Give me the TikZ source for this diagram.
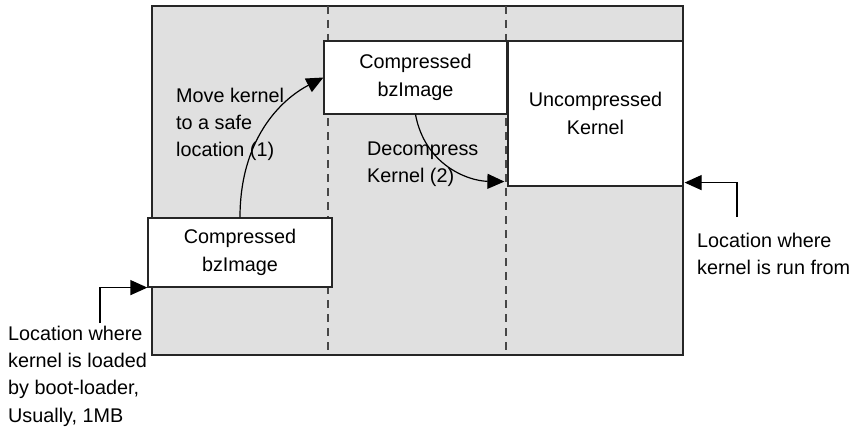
\documentclass[tikz,border=0pt]{standalone}
\usepackage{fontspec}
\setmainfont{Liberation Sans}
\usetikzlibrary{arrows.meta}
\definecolor{memgray}{HTML}{E0E0E0}
\definecolor{edge}{HTML}{262626}
\begin{document}
\begin{tikzpicture}[x=1pt,y=-1pt,
  lbl/.style={font=\fontsize{19.8}{27.4}\selectfont, text=black},
  membox/.style={draw=edge, fill=white, line width=1.2pt, inner sep=0pt,
    align=center, font=\fontsize{19.8}{27.4}\selectfont},
  note/.style={lbl, align=left, inner sep=0pt, anchor=north west},
  divider/.style={draw=edge!85, line width=1.3pt, dash pattern=on 8pt off 6pt},
  link/.style={draw=black, line width=1.2pt, -{Triangle[length=17pt,width=15pt]}}]
\useasboundingbox (0,0) rectangle (852,428);

% memory region
\path[fill=memgray, draw=edge, line width=1.2pt] (152,6) rectangle (683,355);
\draw[divider] (328,6) -- (328,355);
\draw[divider] (506,6) -- (506,355);

% images in memory
\node[membox, minimum width=184pt, minimum height=69pt] (boxA) at (240,252.5) {Compressed\\bzImage};
\node[membox, minimum width=183pt, minimum height=73pt] (boxB) at (415.5,77.5) {Compressed\\bzImage};
\node[membox, minimum width=175pt, minimum height=145pt] (boxC) at (595.5,113.5) {Uncompressed\\Kernel};

% moves between locations
\draw[link] (boxA.north) .. controls (240,140) and (280,100) .. (boxB.west);
\coordinate (decEnd) at ([shift={(-3,-5)}]boxC.south west);
\draw[link] (boxB.south) .. controls (425,165) and (468,181) .. (decEnd);

\node[note] (moveTxt) at (176,87.5) {Move kernel\\to a safe\\location (1)};
\node[note] (decTxt) at (367,141.5) {Decompress\\Kernel (2)};

% side annotations
\node[note] (loadTxt) at (8,325.5) {Location where\\kernel is loaded\\by boot-loader,\\Usually, 1MB};
\node[note] (runTxt) at (697,232.5) {Location where\\kernel is run from};

\coordinate (loadFoot) at (100,323);
\coordinate (runFoot) at (737,217);
\coordinate (runTip) at ([shift={(1,-4)}]boxC.south east);
\draw[link] (loadFoot) |- (boxA.south west);
\draw[link] (runFoot) |- (runTip);
\end{tikzpicture}
\end{document}
